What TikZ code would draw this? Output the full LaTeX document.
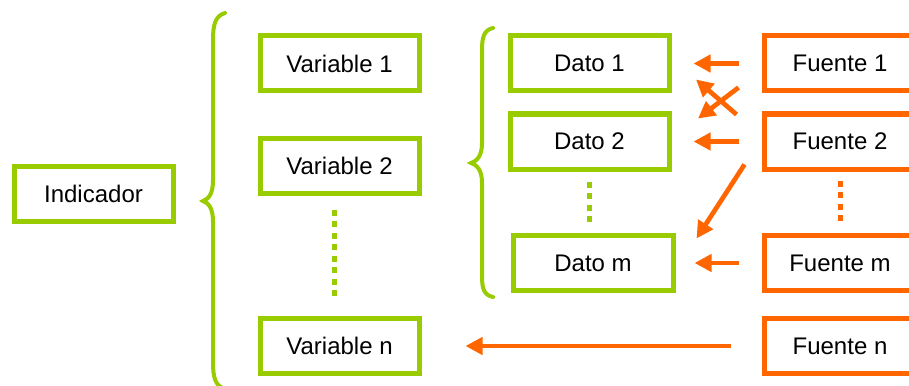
\documentclass[tikz,border=0pt]{standalone}
\usepackage{fontspec}
\setmainfont{Liberation Sans}
\usetikzlibrary{arrows.meta}
\definecolor{verde}{HTML}{99CC00}
\definecolor{naranja}{HTML}{FF6600}
\tikzset{
  gbox/.style={draw=verde,line width=5pt,minimum width=159pt,minimum height=55pt,inner sep=0pt,font=\fontsize{24}{28}\selectfont},
  obox/.style={gbox,draw=naranja,minimum width=151pt},
  oarr/.style={draw=naranja,line width=4.7pt,-{Triangle[length=17pt,width=17pt]}},
  gdots/.style={draw=verde,line width=5pt,dash pattern=on 6pt off 5.5pt},
  odots/.style={gdots,draw=naranja},
  llave/.style={draw=verde,line width=4pt,line cap=round}
}
\begin{document}
\begin{tikzpicture}[x=1pt,y=-1pt]
\useasboundingbox(0,0)rectangle(909,385);
% cajas verdes
\node[gbox](ind)at(93.5,193.5){Indicador};
\node[gbox](v1)at(339.5,63.5){Variable 1};
\node[gbox](v2)at(339.5,165.5){Variable 2};
\node[gbox](vn)at(339.5,346){Variable n};
\node[gbox](d1)at(589.5,63.5){Dato 1};
\node[gbox](d2)at(589.5,141.5){Dato 2};
\node[gbox,minimum width=160pt](dm)at(593,263){Dato m};
% cajas naranjas (cortadas a la derecha)
\node[obox](f1)at(840,63.5){Fuente 1};
\node[obox](f2)at(840,141.5){Fuente 2};
\node[obox](fm)at(840,263){Fuente m};
\node[obox](fn)at(840,346){Fuente n};
% llaves
\draw[llave](225,13)..controls(215,16)and(213,25)..(213,40)--(213,180)
  ..controls(213,195)and(208,199)..(203,201)..controls(208,203)and(213,207)..(213,222)
  --(213,362)..controls(213,377)and(215,386)..(225,389);
\draw[llave](493,28)..controls(484,30)and(482,37)..(482,50)--(482,143)
  ..controls(482,156)and(477,161)..(471,163)..controls(477,165)and(482,170)..(482,183)
  --(482,276)..controls(482,289)and(484,295)..(493,297);
% puntos
\draw[gdots]([shift={(-5,14)}]v2.south)--([shift={(-5,-15)}]vn.north);
\draw[gdots]([yshift=-10pt]d2.south)--([yshift=8.5pt]d2.south|-dm.north);
\draw[odots]([yshift=-9pt]f2.south)--([yshift=8.5pt]fm.north);
% flechas
\draw[oarr]([xshift=-23pt]f1.west)--([xshift=22pt]d1.east);
\draw[oarr]([shift={(-23.5,-6)}]f1.south west)--([shift={(26.5,7)}]d2.north east);
\draw[oarr]([shift={(-25.5,3)}]f2.north west)--([shift={(24.5,-14)}]d1.south east);
\draw[oarr]([xshift=-23pt]f2.west)--([xshift=22pt]d2.east);
\draw[oarr]([shift={(-17.5,-7)}]f2.south west)--([shift={(21,5.5)}]dm.north east);
\draw[oarr]([xshift=-23.5pt]fm.west)--([xshift=19pt]dm.east);
\draw[oarr]([xshift=-31.5pt]fn.west)--([xshift=44pt]vn.east);
\end{tikzpicture}
\end{document}
